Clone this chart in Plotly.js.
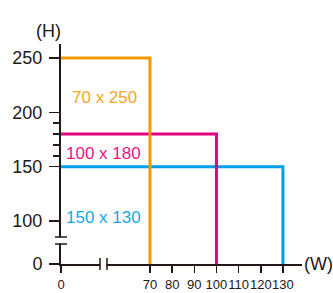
<!DOCTYPE html>
<html>
<head>
<meta charset="utf-8">
<script src="https://cdn.plot.ly/plotly-3.0.1.min.js"></script>
<style>html,body{margin:0;padding:0;background:#fff;}#chart{width:333px;height:293px;}</style>
</head>
<body>
<div id="chart"></div>
<script>
// ---- data ----
var labels  = ["150 x 130", "100 x 180", "70 x 250"];
var widths  = [130, 100, 70];
var heights = [150, 180, 250];
var colors  = ["#00a0e9", "#e4007f", "#f39800"];
var textColors = ["#1aa6e6", "#e4168a", "#f5a623"];
var xTickVals = [70, 80, 90, 100, 110, 120, 130];
var yTickVals = [100, 150, 200, 250];
var yMinorVals = [160, 170, 180, 190];

// broken axes: the "0" sits at the start of each axis range
var xRange = [29.85, 138.6];
var yRange = [60.4, 262.9];
var X0 = xRange[0], Y0 = yRange[0];

var axisColor = "#231815";
var traces = [];
for (var i = 0; i < widths.length; i++) {
  traces.push({
    type: "scatter", mode: "lines",
    x: [X0, widths[i], widths[i]],
    y: [heights[i], heights[i], Y0],
    line: {color: colors[i], width: 3},
    hoverinfo: "skip", cliponaxis: false
  });
}

// label positions (left edge / vertical centre)
var labelPos = [[31.2, 103.6], [31.2, 162.5], [33.9, 214.1]];
var annotations = [];
for (var j = 0; j < labels.length; j++) {
  annotations.push({
    text: labels[j], x: labelPos[j][0], y: labelPos[j][1],
    xref: "x", yref: "y", xanchor: "left", yanchor: "middle", showarrow: false,
    font: {family: "Liberation Sans, Arial, sans-serif", size: 17, color: textColors[j]}
  });
}
annotations.push({text: "(H)", xref: "paper", yref: "paper", x: -0.05, y: 1.058,
  xanchor: "center", yanchor: "middle", showarrow: false,
  font: {family: "Liberation Sans, Arial, sans-serif", size: 18, color: axisColor}});
annotations.push({text: "(W)", xref: "paper", yref: "paper", x: 1.002, y: 0,
  xanchor: "left", yanchor: "middle", showarrow: false,
  font: {family: "Liberation Sans, Arial, sans-serif", size: 18, color: axisColor}});

var W = 241, H = 220;
function px(p) { return p / W; }
function py(p) { return p / H; }
var shapes = [
  // y-axis break
  {type: "rect", xref: "paper", yref: "paper", x0: px(-3), x1: px(3), y0: py(20.5), y1: py(26.5),
   fillcolor: "#fff", line: {width: 0}, layer: "above"},
  {type: "line", xref: "paper", yref: "paper", x0: px(-6), x1: px(6), y0: py(27), y1: py(27),
   line: {color: axisColor, width: 1.5}, layer: "above"},
  {type: "line", xref: "paper", yref: "paper", x0: px(-6), x1: px(6), y0: py(20), y1: py(20),
   line: {color: axisColor, width: 1.5}, layer: "above"},
  // x-axis break
  {type: "rect", xref: "paper", yref: "paper", x0: px(39.5), x1: px(45.5), y0: py(-3), y1: py(3),
   fillcolor: "#fff", line: {width: 0}, layer: "above"},
  {type: "line", xref: "paper", yref: "paper", x0: px(39), x1: px(39), y0: py(-6), y1: py(6),
   line: {color: axisColor, width: 1.5}, layer: "above"},
  {type: "line", xref: "paper", yref: "paper", x0: px(46), x1: px(46), y0: py(-6), y1: py(6),
   line: {color: axisColor, width: 1.5}, layer: "above"}
];

var layout = {
  width: 333, height: 293,
  margin: {l: 61, r: 31, t: 44, b: 29, pad: 0},
  paper_bgcolor: "#fff", plot_bgcolor: "#fff",
  showlegend: false,
  font: {family: "Liberation Sans, Arial, sans-serif", color: axisColor},
  xaxis: {
    range: xRange, showgrid: false, zeroline: false,
    showline: true, linecolor: axisColor, linewidth: 2,
    ticks: "outside", ticklen: 7, tickwidth: 1.5, tickcolor: axisColor,
    tickmode: "array", tickvals: [X0].concat(xTickVals),
    ticktext: ["0"].concat(xTickVals.map(String)),
    tickangle: 0, ticklabelstandoff: 0,
    tickfont: {family: "Liberation Sans, Arial, sans-serif", size: 13, color: axisColor},
    fixedrange: true
  },
  yaxis: {
    range: yRange, showgrid: false, zeroline: false,
    showline: true, linecolor: axisColor, linewidth: 2,
    ticks: "outside", ticklen: 10, tickwidth: 1.5, tickcolor: axisColor,
    tickmode: "array", tickvals: [Y0].concat(yTickVals),
    ticktext: ["0"].concat(yTickVals.map(String)),
    ticklabelstandoff: 3,
    minor: {tickmode: "array", tickvals: yMinorVals, ticks: "outside", ticklen: 6,
            tickwidth: 1.5, tickcolor: axisColor, showgrid: false},
    tickfont: {family: "Liberation Sans, Arial, sans-serif", size: 18, color: axisColor},
    fixedrange: true
  },
  shapes: shapes,
  annotations: annotations
};

Plotly.newPlot("chart", traces, layout, {displayModeBar: false, staticPlot: true});
</script>
</body>
</html>
